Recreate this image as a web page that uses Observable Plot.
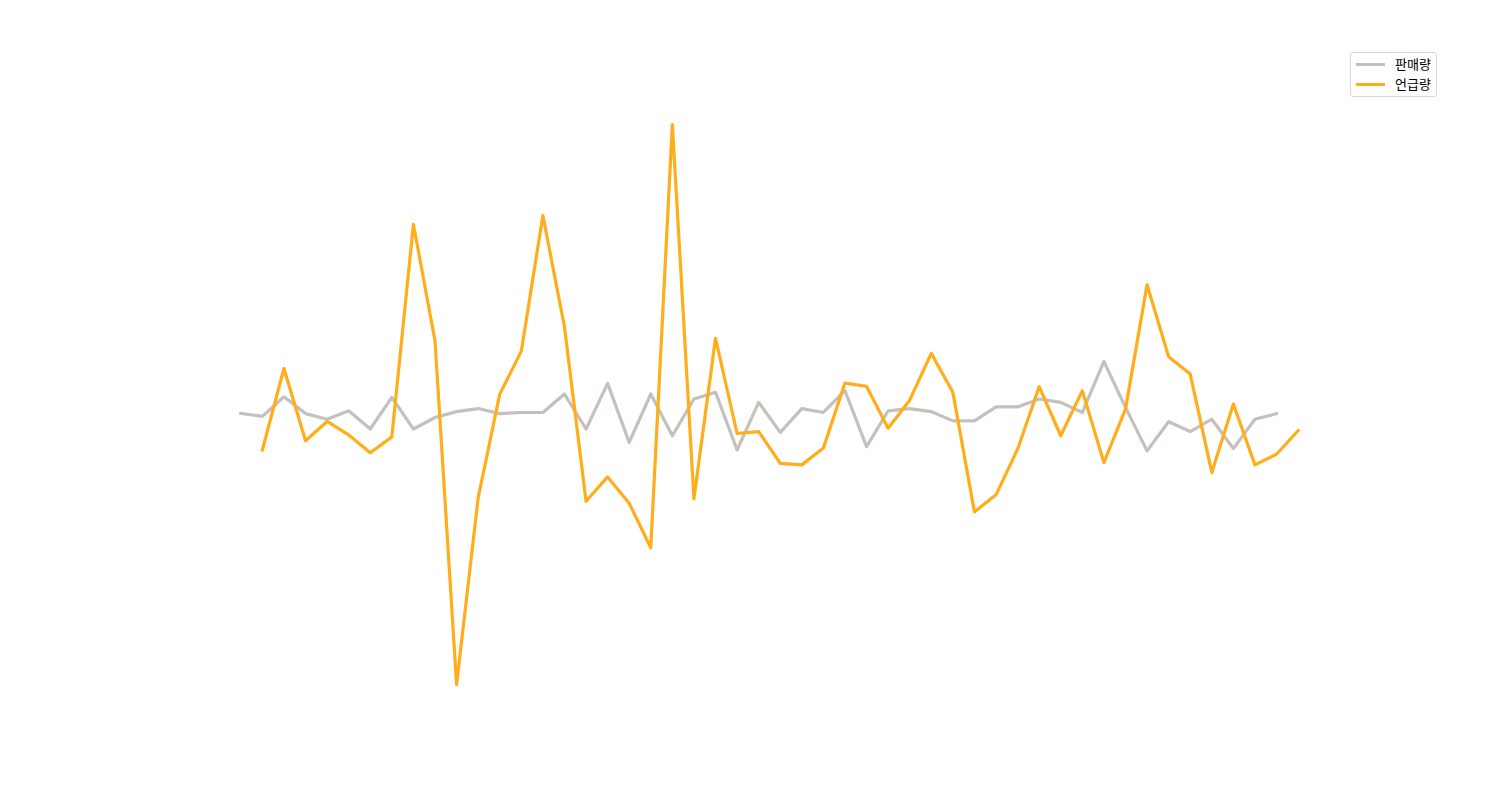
<!DOCTYPE html>
<html>
<head>
<meta charset="utf-8">
<script src="https://cdn.jsdelivr.net/npm/d3@7"></script>
<script src="https://cdn.jsdelivr.net/npm/@observablehq/plot@0.6"></script>
<style>
  html, body { margin: 0; padding: 0; background: #fff; }
  #wrap { position: relative; width: 1500px; height: 800px; }
  #legend {
    position: absolute; left: 1350px; top: 52px; width: 85px; height: 43px;
    border: 1px solid #d6d6d6; border-radius: 3px; background: rgba(255,255,255,0.8);
    font-family: "Noto Sans CJK KR", "Noto Sans", sans-serif; font-size: 13px; color: #000;
  }
  .item { position: absolute; left: 0; height: 20px; width: 85px; }
  .swatch { position: absolute; left: 5px; top: 8.5px; width: 29px; height: 3px; }
  .label { position: absolute; left: 44px; top: 0px; line-height: 20px; }
</style>
</head>
<body>
<div id="wrap">
  <div id="chart"></div>
  <div id="legend"></div>
</div>
<script>
const seriesNames = ["판매량", "언급량"];
const seriesColors = ["#c4c1bc", "#ffad1a"];

// 판매량 (index 0..48)
const salesIndex = d3.range(0, 49);
const salesValues = [-0.2, -1.3, 5.7, -0.3, -2.3, 0.7, -5.8, 5.5, -5.8, -1.7,
  0.4, 1.5, -0.3, 0.1, 0.1, 6.7, -5.8, 10.5, -10.6, 6.7,
  -8.2, 4.9, 7.3, -13.3, 3.7, -7.0, 1.5, 0.1, 7.9, -12.1,
  0.7, 1.5, 0.4, -2.9, -2.9, 2.1, 2.1, 4.9, 3.7, 0.1,
  18.3, 1.9, -13.6, -3.2, -6.7, -2.3, -12.8, -2.3, -0.3];

// 언급량 (index 1..49)
const mentionIndex = d3.range(1, 50);
const mentionValues = [-13.3, 15.8, -10.0, -3.1, -7.9, -14.3, -8.6, 67.3, 25.7, -97.0,
  -30.4, 6.6, 22.0, 70.4, 30.7, -31.6, -22.9, -32.3, -48.2, 102.9,
  -30.7, 26.6, -7.4, -6.7, -18.1, -18.6, -12.6, 10.6, 9.4, -5.5,
  4.5, 21.2, 7.3, -35.4, -29.3, -13.0, 9.3, -8.2, 7.9, -17.8,
  1.3, 45.7, 20.0, 13.8, -21.3, 3.1, -18.6, -14.8, -6.4];

const sales = salesIndex.map((x, i) => ({x, y: salesValues[i]}));
const mentions = mentionIndex.map((x, i) => ({x, y: mentionValues[i]}));

const allY = salesValues.concat(mentionValues);
const yExt = d3.extent(allY);

const chart = Plot.plot({
  width: 1500,
  height: 800,
  margin: 0,
  x: {domain: [0, 49], range: [240.3, 1297.6], axis: null},
  y: {domain: yExt, range: [684, 124], axis: null},
  marks: [
    Plot.line(sales, {x: "x", y: "y", stroke: seriesColors[0], strokeWidth: 3.2, strokeLinejoin: "round", strokeLinecap: "square"}),
    Plot.line(mentions, {x: "x", y: "y", stroke: seriesColors[1], strokeWidth: 3.2, strokeLinejoin: "round", strokeLinecap: "square"})
  ]
});
document.getElementById("chart").appendChild(chart);

const legend = document.getElementById("legend");
seriesNames.forEach((name, i) => {
  const item = document.createElement("div");
  item.className = "item";
  item.style.top = (1 + i * 20) + "px";
  const sw = document.createElement("div");
  sw.className = "swatch";
  sw.style.background = seriesColors[i];
  const lb = document.createElement("div");
  lb.className = "label";
  lb.textContent = name;
  item.appendChild(sw);
  item.appendChild(lb);
  legend.appendChild(item);
});
</script>
</body>
</html>
